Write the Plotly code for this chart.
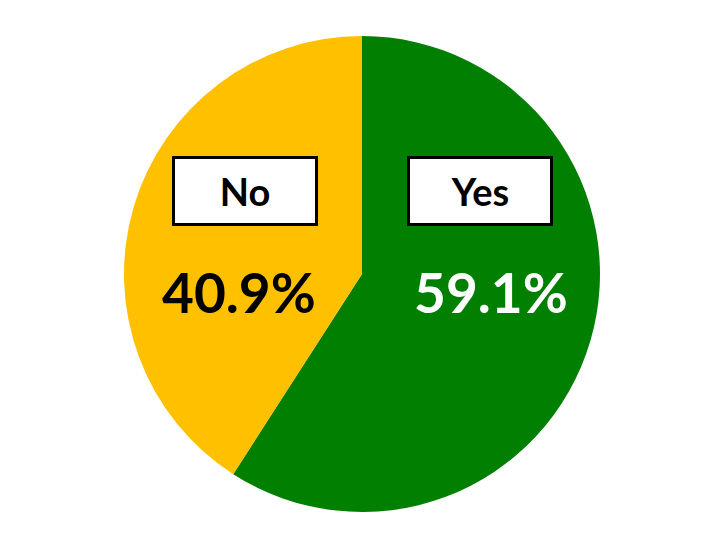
import plotly.graph_objects as go

# answers and shares (percent)
labels = ["Yes", "No"]
values = [59.1, 40.9]
colors = ["#007F00", "#FFC000"]
pct_colors = ["white", "black"]

fig = go.Figure(go.Pie(
    labels=labels, values=values, sort=False, direction="clockwise", rotation=0,
    marker=dict(colors=colors, line=dict(width=0)),
    textinfo="none", hoverinfo="label+percent",
    domain=dict(x=[0.1613, 0.8234], y=[0.082, 0.949]),
))

font = "Lato"
# label boxes and percentages placed by hand like the original
box_pos = {"Yes": (0.6565, 0.6667), "No": (0.3303, 0.6667)}
pct_pos = {"Yes": (0.672, 0.482), "No": (0.3215, 0.482)}
annotations = []
for lab, val, pc in zip(labels, values, pct_colors):
    bx, by = box_pos[lab]
    annotations.append(dict(
        x=bx, y=by, xref="paper", yref="paper", xanchor="center", yanchor="middle",
        text="<b>%s</b>" % lab, showarrow=False,
        font=dict(family=font, size=38, color="black"), bgcolor="white",
        bordercolor="black", borderwidth=3, width=138, height=62, align="center"))
    px_, py_ = pct_pos[lab]
    annotations.append(dict(
        x=px_, y=py_, xref="paper", yref="paper", xanchor="center", yanchor="middle",
        text="<b>%.1f%%</b>" % val, showarrow=False,
        font=dict(family=font, size=55, color=pc)))

fig.update_layout(width=719, height=549, margin=dict(l=0, r=0, t=0, b=0),
                  showlegend=False, paper_bgcolor="white", annotations=annotations)
fig.write_html("out.html")
